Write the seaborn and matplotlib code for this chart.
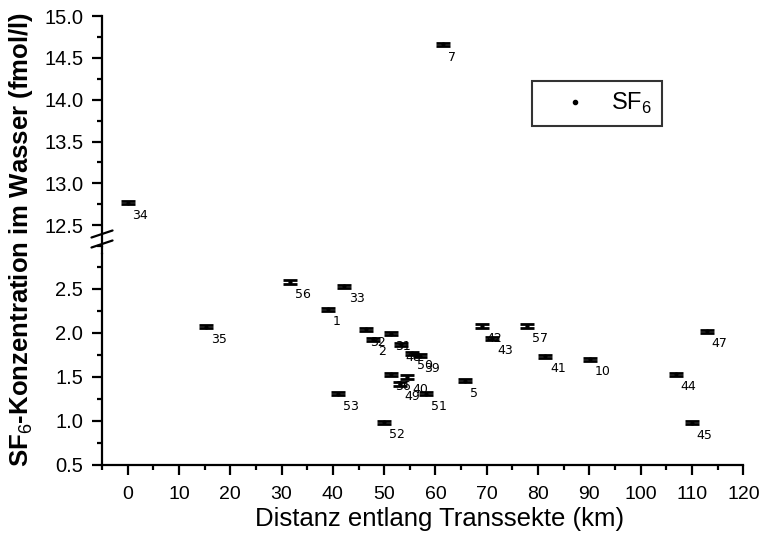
import matplotlib
matplotlib.use("Agg")
import matplotlib.pyplot as plt
from matplotlib.lines import Line2D
import seaborn as sns
import pandas as pd
import numpy as np

# Station numbers, distance along the transect (km) and SF6 concentration (fmol/l)
stations = ["34", "7", "35", "56", "33", "1", "32", "2", "31", "48", "50", "39",
            "36", "40", "49", "51", "53", "52", "5", "42", "43", "57", "41", "10",
            "44", "45", "47"]
distance_km = [0.0, 61.5, 15.3, 31.7, 42.2, 39.1, 46.4, 47.9, 51.3, 53.3, 55.5, 56.9,
               51.3, 54.5, 53.1, 58.2, 41.0, 50.0, 65.8, 69.0, 71.1, 77.8, 81.4, 90.1,
               106.8, 110.0, 112.9]
sf6_fmol = [12.77, 14.66, 2.07, 2.58, 2.53, 2.27, 2.04, 1.93, 1.99, 1.87, 1.77, 1.74,
            1.53, 1.50, 1.42, 1.31, 1.31, 0.985, 1.46, 2.08, 1.94, 2.08, 1.735, 1.70,
            1.53, 0.98, 2.02]
sf6_err = [0.018] * len(sf6_fmol)

x_ticks = list(range(0, 121, 10))
upper_yticks = [12.5, 13.0, 13.5, 14.0, 14.5, 15.0]
lower_yticks = [0.5, 1.0, 1.5, 2.0, 2.5]

df = pd.DataFrame({"station": stations, "x": distance_km, "y": sf6_fmol, "err": sf6_err})

sns.set_style("ticks")
plt.rcParams["font.family"] = ["Liberation Sans", "DejaVu Sans"]
plt.rcParams["mathtext.fontset"] = "custom"
plt.rcParams["mathtext.rm"] = "Liberation Sans"
plt.rcParams["mathtext.bf"] = "Liberation Sans:bold"
for key in ["axes.edgecolor", "text.color", "xtick.color", "ytick.color",
            "axes.labelcolor"]:
    plt.rcParams[key] = "black"

fig = plt.figure(figsize=(7.63, 5.41), dpi=100)
left, width = 0.1337, 0.8405
top_bottom, top_height = 0.5450, 0.4254
bot_bottom, bot_height = 0.1405, 0.3904
ax_top = fig.add_axes([left, top_bottom, width, top_height])
ax_bot = fig.add_axes([left, bot_bottom, width, bot_height])

lw = 1.6
for ax, (lo, hi), yt in [(ax_top, (12.4, 15.0), upper_yticks),
                         (ax_bot, (0.5, 2.9), lower_yticks)]:
    sub = df[(df["y"] >= lo) & (df["y"] <= hi)]
    ax.errorbar(sub["x"], sub["y"], yerr=sub["err"], fmt="none", ecolor="black",
                elinewidth=1.6, capsize=4.8, capthick=2.0, zorder=2)
    sns.scatterplot(data=sub, x="x", y="y", ax=ax, color="black", s=9,
                    edgecolor="black", linewidth=0, zorder=3, legend=False)
    for _, r in sub.iterrows():
        ax.annotate(r["station"], (r["x"], r["y"]), xytext=(3.4, -4.4),
                    textcoords="offset points", ha="left", va="top",
                    fontsize=9, family="DejaVu Sans", color="black")
    ax.set_xlim(-5, 120)
    ax.set_ylim(lo, hi)
    ax.set_yticks(yt)
    ax.set_yticklabels([f"{v:.1f}" for v in yt])
    ax.set_yticks(np.arange(lo - lo % 0.25, hi + 0.001, 0.25), minor=True)
    ax.set_xlabel("")
    ax.set_ylabel("")
    for s in ["top", "right"]:
        ax.spines[s].set_visible(False)
    ax.spines["left"].set_linewidth(lw)
    ax.spines["bottom"].set_linewidth(lw)
    ax.tick_params(axis="y", which="major", direction="out", length=7, width=lw,
                   labelsize=14.5, pad=6.5)
    ax.tick_params(axis="y", which="minor", direction="out", length=3.8, width=lw)
    ax.patch.set_alpha(0)

# Upper panel shows no x axis
ax_top.spines["bottom"].set_visible(False)
ax_top.tick_params(axis="x", which="both", bottom=False, labelbottom=False)

ax_bot.set_xticks(x_ticks)
ax_bot.set_xticklabels([str(v) for v in x_ticks])
ax_bot.set_xticks(np.arange(-5, 121, 5), minor=True)
ax_bot.tick_params(axis="x", which="major", direction="out", length=7, width=lw,
                   labelsize=14, pad=8)
ax_bot.tick_params(axis="x", which="minor", direction="out", length=3.8, width=lw)
ax_bot.set_xlabel("Distanz entlang Transsekte (km)", fontsize=18.5)
ax_bot.xaxis.set_label_coords(0.526, -0.198)

# Left spine continues across the gap; two slashes mark the axis break
fig.add_artist(Line2D([left, left], [bot_bottom + bot_height, top_bottom],
                      transform=fig.transFigure, color="black", lw=lw))
for yc in (1 - 234 / 541, 1 - 244 / 541):
    fig.add_artist(Line2D([left - 0.0138, left + 0.0138], [yc - 0.0065, yc + 0.0065],
                          transform=fig.transFigure, color="black", lw=1.6))

fig.text(0.027, 0.557, r"SF$_6$-Konzentration im Wasser (fmol/l)", rotation=90,
         ha="center", va="center", fontsize=18.5, fontweight="bold")

# Legend
handle = Line2D([], [], marker="o", color="black", linestyle="none", markersize=3)
leg = ax_top.legend([handle], [r"SF$_6$"], loc="upper left",
                    bbox_to_anchor=(0.671, 0.718), frameon=True, fancybox=False,
                    fontsize=17, handletextpad=0.15, borderpad=0.42, handlelength=2.75,
                    borderaxespad=0)
leg.get_frame().set_edgecolor("black")
leg.get_frame().set_linewidth(1.5)

fig.savefig("out.png", dpi=100)
